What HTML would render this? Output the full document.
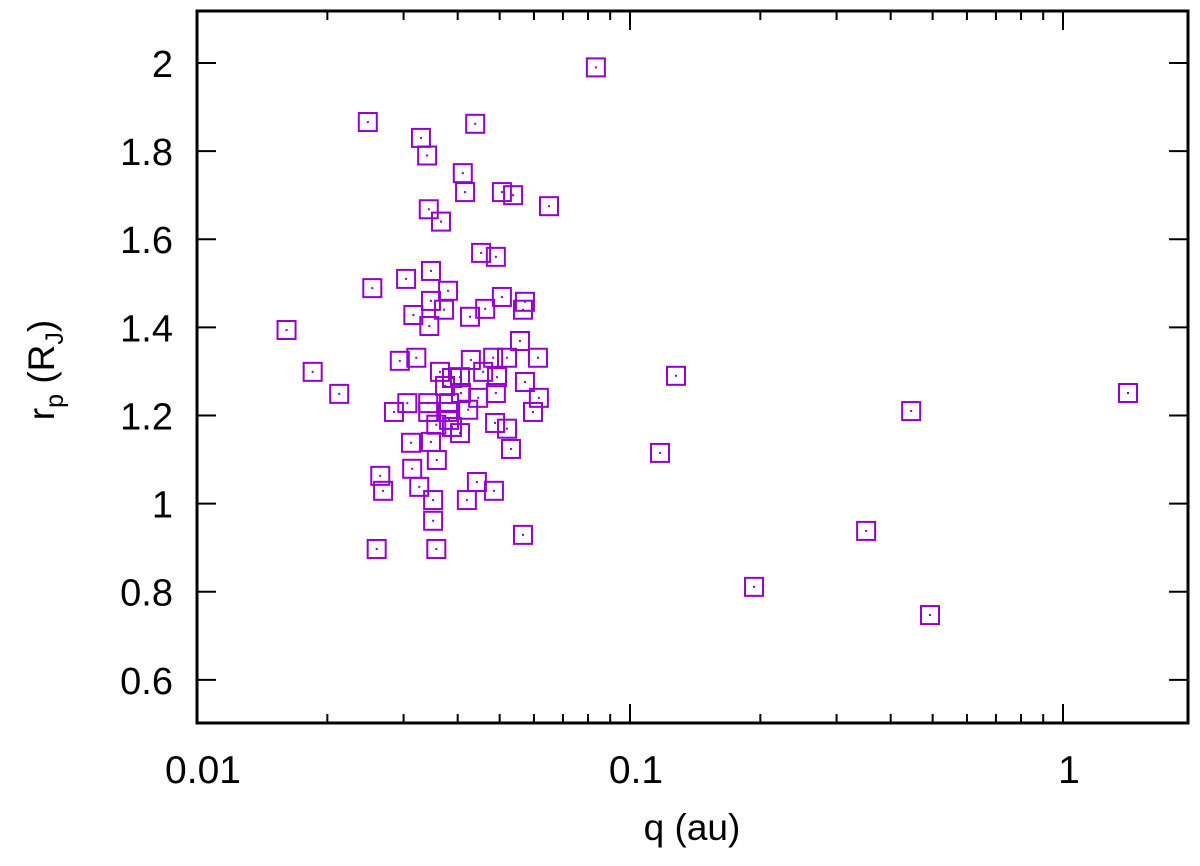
<!DOCTYPE html>
<html><head><meta charset="utf-8"><style>
html,body{margin:0;padding:0;background:#fff;}
svg{display:block;font-family:"Liberation Sans",sans-serif;}
</style></head><body>
<svg id="chart" width="1200" height="866" viewBox="0 0 1200 866" xmlns="http://www.w3.org/2000/svg">
<g id="ticks"></g>
<g id="points"></g>
<rect x="197" y="11" width="991" height="712" fill="none" stroke="#000" stroke-width="3"/>
<text x="692" y="840" font-size="37" text-anchor="middle">q (au)</text>
<text transform="translate(54,370) rotate(-90)" font-size="37" text-anchor="middle">r<tspan font-size="25" dy="9">p</tspan><tspan dy="-9"> (R</tspan><tspan font-size="25" dy="9">J</tspan><tspan dy="-9">)</tspan></text>
</svg>
<script>
const qValues=[0.0834,0.0248,0.0439,0.0329,0.0340,0.0411,0.0416,0.0506,0.0537,0.0650,0.0343,0.0366,
0.0453,0.0490,0.0347,0.0304,0.0254,0.0380,0.0347,0.0372,0.0316,0.0344,0.0427,0.0463,0.0506,0.0572,0.0566,
0.0161,0.0557,0.0294,0.0321,0.0429,0.0483,0.0520,0.0613,0.0364,0.0458,0.0493,0.0388,0.0405,0.0374,0.0407,
0.0446,0.0490,0.0572,0.0616,0.0185,0.0213,0.0306,0.0285,0.0342,0.0342,0.0382,0.0380,0.0423,0.0597,
0.0357,0.0382,0.0388,0.0488,0.0520,0.0405,0.0312,0.0347,0.0358,0.0531,0.0265,0.0269,0.0314,0.0326,
0.0351,0.0443,0.0485,0.0420,0.0351,0.0566,0.0260,0.0357,
0.1173,0.1277,0.1934,0.351,0.446,0.493,1.413];
const rValues=[1.99,1.866,1.862,1.83,1.79,1.75,1.707,1.707,1.70,1.675,1.668,1.64,
1.569,1.560,1.528,1.510,1.489,1.483,1.460,1.440,1.428,1.403,1.424,1.442,1.469,1.458,1.440,
1.394,1.369,1.324,1.331,1.326,1.331,1.331,1.331,1.299,1.299,1.287,1.285,1.287,1.267,1.251,
1.240,1.251,1.276,1.240,1.299,1.249,1.228,1.208,1.228,1.208,1.228,1.208,1.213,1.208,
1.179,1.190,1.174,1.183,1.170,1.160,1.138,1.140,1.099,1.124,1.063,1.029,1.079,1.038,
1.008,1.049,1.029,1.008,0.961,0.929,0.897,0.897,
1.115,1.29,0.811,0.938,1.21,0.747,1.251];
const yTicks=[0.6,0.8,1,1.2,1.4,1.6,1.8,2];
const yTickLabels=["0.6","0.8","1","1.2","1.4","1.6","1.8","2"];
const xTicks=[0.01,0.1,1];
const xTickLabels=["0.01","0.1","1"];

const L=197,R=1188,T=11,B=723;
const xMin=0.01,xMax=Math.pow(10,991/433-2);
const yMin=0.502,yMax=2.118;
const sx=v=>L+(Math.log10(v)-Math.log10(xMin))/(Math.log10(xMax)-Math.log10(xMin))*(R-L);
const sy=v=>B-(v-yMin)/(yMax-yMin)*(B-T);
const NS="http://www.w3.org/2000/svg";
const tg=document.getElementById('ticks');
function line(x1,y1,x2,y2,w){const l=document.createElementNS(NS,'line');l.setAttribute('x1',x1);l.setAttribute('y1',y1);l.setAttribute('x2',x2);l.setAttribute('y2',y2);l.setAttribute('stroke','#000');l.setAttribute('stroke-width',w);return l;}
yTicks.forEach((v,i)=>{
  const y=sy(v);
  const a=line(L,y,L+19,y,2);
  
  
  tg.appendChild(a);
  const b=line(R-19,y,R,y,2);
  
  
  tg.appendChild(b);
  const t=document.createElementNS(NS,'text');
  t.setAttribute('x',173);t.setAttribute('y',y+14);t.setAttribute('font-size','38');t.setAttribute('text-anchor','end');
  t.textContent=yTickLabels[i];
  
  
  tg.appendChild(t);
});
for(let d=-2;d<=0;d++){for(let m=1;m<=9;m++){
  const v=m*Math.pow(10,d);if(v>xMax)continue;
  const x=sx(v);const len=m===1?19:9;
  const a=line(x,B-len,x,B,2);
  
  
  tg.appendChild(a);
  const b=line(x,T,x,T+len,2);
  
  
  tg.appendChild(b);
}}
xTicks.forEach((v,i)=>{
  const t=document.createElementNS(NS,'text');
  t.setAttribute('x',sx(v)+6);t.setAttribute('y',783);t.setAttribute('font-size','39');t.setAttribute('text-anchor','middle');
  t.textContent=xTickLabels[i];
  
  
  tg.appendChild(t);
});
const pg=document.getElementById('points');
qValues.forEach((q,i)=>{
  const x=sx(q),y=sy(rValues[i]);
  const r=document.createElementNS(NS,'rect');
  r.setAttribute('x',x-9);r.setAttribute('y',y-9);r.setAttribute('width',18);r.setAttribute('height',18);
  r.setAttribute('fill','none');r.setAttribute('stroke','#9400d3');r.setAttribute('stroke-width','2');
  
  
  pg.appendChild(r);
  const c=document.createElementNS(NS,'rect');
  c.setAttribute('x',x-1);c.setAttribute('y',y-1);c.setAttribute('width',2);c.setAttribute('height',2);c.setAttribute('fill','#9400d3');
  
  
  pg.appendChild(c);
});
</script>
</body></html>
